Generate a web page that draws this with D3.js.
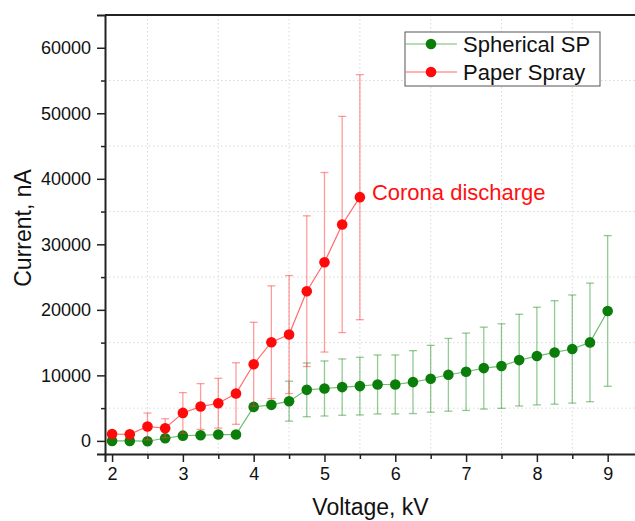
<!DOCTYPE html>
<html>
<head>
<meta charset="utf-8">
<script src="https://cdn.jsdelivr.net/npm/d3@7"></script>
<style>
  html, body { margin:0; padding:0; background:#fff; }
  text { font-family: "Liberation Sans", Arial, sans-serif; }
</style>
</head>
<body>
<div id="content"></div>
<script>
'use strict';
//////////////////// input data
const voltSP   = [2, 2.25, 2.5, 2.75, 3, 3.25, 3.5, 3.75, 4, 4.25, 4.5, 4.75, 5, 5.25, 5.5,
                  5.75, 6, 6.25, 6.5, 6.75, 7, 7.25, 7.5, 7.75, 8, 8.25, 8.5, 8.75, 9];
const currSP   = [0, 0, -50, 400, 800, 860, 970, 970, 5190, 5500, 6060, 7790, 8000, 8210, 8360,
                  8610, 8610, 8970, 9480, 10090, 10550, 11110, 11420, 12330, 12950, 13500, 14020, 15030, 19830];
const errSP    = [200, 200, 200, 250, 300, 300, 300, 300, 400, 400, 3050, 4100, 4200, 4300, 4400,
                  4500, 4500, 4800, 5100, 5550, 5900, 6250, 6450, 7000, 7450, 7900, 8250, 9050, 11500];

const voltPS   = [2, 2.25, 2.5, 2.75, 3, 3.25, 3.5, 3.75, 4, 4.25, 4.5, 4.75, 5, 5.25, 5.5];
const currPS   = [1050, 1000, 2200, 1930, 4270, 5240, 5750, 7230, 11700, 15060, 16230, 22850, 27260, 33030, 37200];
const errPS    = [300, 300, 2050, 1450, 3100, 3500, 3800, 4700, 6400, 8600, 9000, 11500, 13700, 16500, 18700];

const xTicks   = [2, 3, 4, 5, 6, 7, 8, 9];
const xMinor   = [2.5, 3.5, 4.5, 5.5, 6.5, 7.5, 8.5];
const yTicks   = [0, 10000, 20000, 30000, 40000, 50000, 60000];
const yMinor   = [5000, 15000, 25000, 35000, 45000, 55000];

const seriesNames = ['Spherical SP', 'Paper Spray'];
const annotation  = 'Corona discharge';

const series = [
    {name:seriesNames[0], x:voltSP, y:currSP, e:errSP, dot:'#0b7d0b', line:'#6fbf6f', bar:'rgba(40,150,40,0.5)'},
    {name:seriesNames[1], x:voltPS, y:currPS, e:errPS, dot:'#ff0a0a', line:'#ff6a6a', bar:'rgba(255,60,60,0.5)'}
];
const points = s => s.x.map((v, i) => ({x:v, y:s.y[i], e:s.e[i]}));


//////////////////// drawing area
const W = 635, H = 521;
const margin = { left:105, right:-1, top:15, bottom:67 };
const iW = W - margin.left - margin.right;
const iH = H - margin.top - margin.bottom;

const xScale = d3.scaleLinear().domain([1.9, 9.4]).range([0, iW]);
const yScale = d3.scaleLinear().domain([-2000, 65000]).range([iH, 0]);


//////////////////// svg
const svg = d3.select("#content")
    .append("svg")
        .attr("width",  W)
        .attr("height", H);

const diagram = svg.append("g")
    .attr("transform", "translate("+margin.left+", "+margin.top+")");

// dotted grid on the minor positions
diagram.append("g").selectAll("line")
    .data(xMinor)
    .enter().append("line")
    .attr("x1", d => xScale(d)).attr("x2", d => xScale(d))
    .attr("y1", 0).attr("y2", iH)
    .attr("stroke", "#d8d8d8").attr("stroke-dasharray", "1.5,2.5");

diagram.append("g").selectAll("line")
    .data(yMinor)
    .enter().append("line")
    .attr("x1", 0).attr("x2", iW)
    .attr("y1", d => yScale(d)).attr("y2", d => yScale(d))
    .attr("stroke", "#d8d8d8").attr("stroke-dasharray", "1.5,2.5");

// series: error bars, line, dots
const line = d3.line().x(d => xScale(d.x)).y(d => yScale(d.y));

series.forEach(s => {
    const pts = points(s);
    const g = diagram.append("g");

    const eb = g.selectAll(".err")
        .data(pts)
        .enter().append("g")
        .attr("stroke", s.bar).attr("stroke-width", 1.3);
    eb.append("line")
        .attr("x1", d => xScale(d.x)).attr("x2", d => xScale(d.x))
        .attr("y1", d => yScale(d.y - d.e)).attr("y2", d => yScale(d.y + d.e));
    eb.append("line")
        .attr("x1", d => xScale(d.x) - 4).attr("x2", d => xScale(d.x) + 4)
        .attr("y1", d => yScale(d.y + d.e)).attr("y2", d => yScale(d.y + d.e));
    eb.append("line")
        .attr("x1", d => xScale(d.x) - 4).attr("x2", d => xScale(d.x) + 4)
        .attr("y1", d => yScale(d.y - d.e)).attr("y2", d => yScale(d.y - d.e));

    g.append("path")
        .attr("d", line(pts))
        .attr("fill", "none").attr("stroke", s.line).attr("stroke-width", 1.2);

    g.selectAll("circle")
        .data(pts)
        .enter().append("circle")
        .attr("cx", d => xScale(d.x)).attr("cy", d => yScale(d.y))
        .attr("r", 5.3)
        .attr("fill", s.dot);
});

// axes
const xAxis = diagram.append("g")
    .attr("transform", "translate(0,"+iH+")")
    .call(d3.axisBottom(xScale).tickValues(xTicks).tickFormat(d3.format("d")).tickSize(8).tickPadding(5));
diagram.append("g")
    .attr("transform", "translate(0,"+iH+")")
    .call(d3.axisBottom(xScale).tickValues(xMinor).tickFormat("").tickSize(5))
    .select(".domain").remove();

const yAxis = diagram.append("g")
    .call(d3.axisLeft(yScale).tickValues(yTicks).tickFormat(d3.format("d")).tickSize(8).tickPadding(6));
diagram.append("g")
    .call(d3.axisLeft(yScale).tickValues(yMinor).tickFormat("").tickSize(4))
    .select(".domain").remove();

diagram.selectAll(".domain").attr("stroke", "#222").attr("stroke-width", 2);
diagram.selectAll(".tick line").attr("stroke", "#222").attr("stroke-width", 1.5);
diagram.selectAll(".tick text").attr("font-size", 18).attr("fill", "#111")
    .attr("font-family", "'Liberation Sans', Arial, sans-serif");

// top frame line
diagram.append("line")
    .attr("x1", 0).attr("x2", iW).attr("y1", 0).attr("y2", 0)
    .attr("stroke", "#222").attr("stroke-width", 2);

// axis titles
svg.append("text")
    .attr("x", margin.left + xScale(5.65)).attr("y", 515)
    .attr("text-anchor", "middle").attr("font-size", 23).attr("fill", "#111")
    .text("Voltage, kV");

svg.append("text")
    .attr("transform", "translate(31,"+(margin.top + yScale(32500))+") rotate(-90)")
    .attr("text-anchor", "middle").attr("font-size", 23).attr("fill", "#111")
    .text("Current, nA");

// annotation
diagram.append("text")
    .attr("x", xScale(5.5) + 12).attr("y", yScale(37200) + 3)
    .attr("font-size", 22).attr("fill", "#ff1010")
    .text(annotation);

// legend
const legend = svg.append("g").attr("transform", "translate(405,32)");
legend.append("rect")
    .attr("width", 195).attr("height", 54)
    .attr("fill", "#fff").attr("stroke", "#555").attr("stroke-width", 1);

const rows = legend.selectAll(".row")
    .data(series)
    .enter().append("g")
    .attr("transform", (d, i) => "translate(0,"+(12 + i * 28)+")");
rows.append("line")
    .attr("x1", 0).attr("x2", 52).attr("y1", 0).attr("y2", 0)
    .attr("stroke", d => d.line).attr("stroke-width", 1.2);
rows.append("circle")
    .attr("cx", 26).attr("cy", 0).attr("r", 5.3)
    .attr("fill", d => d.dot);
rows.append("text")
    .attr("x", 58).attr("y", 8)
    .attr("font-size", 22).attr("fill", "#111")
    .text(d => d.name);
</script>
</body>
</html>
